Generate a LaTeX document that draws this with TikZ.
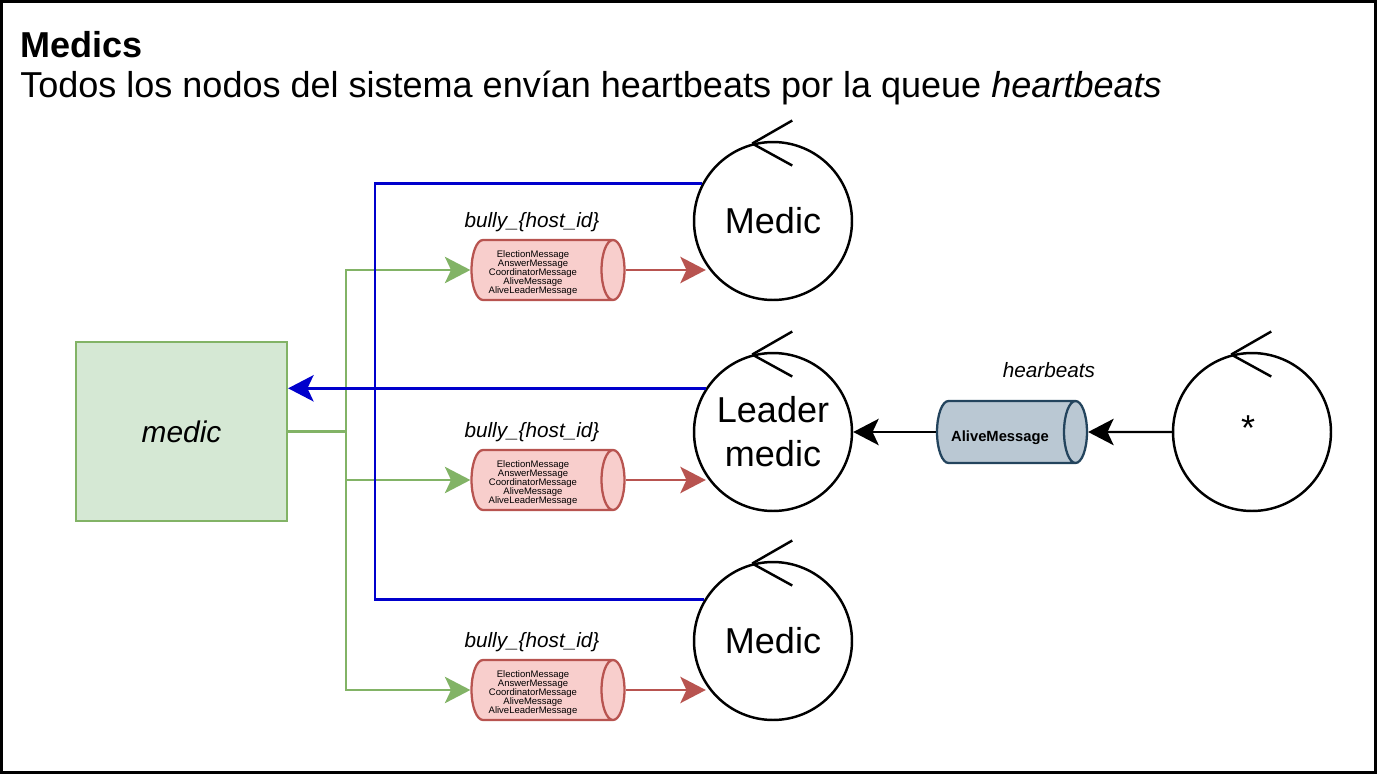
\documentclass[tikz,border=0pt]{standalone}
\usepackage{fontspec}
\setmainfont{Liberation Sans}
\usetikzlibrary{shapes.geometric,arrows.meta,calc}
\definecolor{medicgreen}{HTML}{82B366}
\definecolor{medicfill}{HTML}{D5E8D4}
\definecolor{bullyred}{HTML}{B85450}
\definecolor{bullyfill}{HTML}{F8CECC}
\definecolor{hbline}{HTML}{23445D}
\definecolor{hbfill}{HTML}{BAC8D3}
\definecolor{busblue}{HTML}{0000CC}
\newcommand{\bullymsgs}{ElectionMessage\\AnswerMessage\\CoordinatorMessage\\AliveMessage\\AliveLeaderMessage}

\begin{document}
\begin{tikzpicture}[x=0.02cm,y=-0.02cm,
  tip/.style={-{Stealth[length=14.5pt,width=15pt,inset=3.5pt]}},
  proc/.style={draw,circle,line width=1.4pt,minimum size=3.16cm,inner sep=0pt,
    align=center,font=\fontsize{20.5}{25}\selectfont},
  queue/.style={draw,cylinder,shape aspect=0.4,line width=1.3pt,anchor=shape center,
    text height=26pt,text depth=0pt},
  qlabel/.style={anchor=base,font=\fontsize{11.8}{14}\selectfont\itshape},
  link/.style={line width=1.4pt}]
  \useasboundingbox (0,0) rectangle (1377,774);
  \draw[line width=1.7pt] (1.5,1.5) rectangle (1375.5,772.5);

  %heading
  \node[anchor=base west,inner sep=0pt,font=\fontsize{20.5}{24}\selectfont\bfseries] (title) at (20,57) {Medics};
  \node[anchor=base west,inner sep=0pt,font=\fontsize{20.5}{24}\selectfont] (subtitle) at (20,97)
    {Todos los nodos del sistema envían heartbeats por la queue \textit{heartbeats}};

  %medic service box
  \node[draw=medicgreen,fill=medicfill,line width=1.3pt,minimum width=4.22cm,minimum height=3.58cm,
    font=\fontsize{17}{20}\selectfont\itshape] (medic) at (181.5,431.5) {medic};

  %processes
  \node[proc] (medicA) at (773,221) {Medic};
  \node[proc] (leader) at (773,432) {Leader\\medic};
  \node[proc] (medicC) at (773,641) {Medic};
  \node[proc] (star) at (1252,432) {};
  \node[font=\fontsize{20.5}{24}\selectfont] (starlbl) at (1248,428) {*};
  \foreach \p in {medicA,leader,medicC,star} {
    \draw[line width=1.4pt] (\p.105) -- ++(40,-23) (\p.105) -- ++(40,22);
  }

  %bully queues
  \foreach \q/\y in {1/270,2/480,3/690} {
    \node[queue,draw=bullyred,fill=bullyfill,minimum height=3.06cm,minimum width=1.2cm] (q\q) at (548,\y) {};
    \node[align=center,inner sep=0pt,font=\fontsize{5.4}{5.1}\selectfont] (qt\q) at (533,\y+3) {\bullymsgs};
    \node[qlabel] (ql\q) at (532,\y-43) {bully\_\{host\_id\}};
  }

  %heartbeats queue
  \node[queue,draw=hbline,fill=hbfill,minimum height=3cm,minimum width=1.24cm] (qhb) at (1012,432) {};
  \node[inner sep=0pt,font=\fontsize{8.4}{10}\selectfont\bfseries] (qhbt) at (1000,438) {AliveMessage};
  \node[qlabel] (qhbl) at (1049,377) {hearbeats};

  %green fan-out
  \coordinate (gsplit) at (346,431.5);
  \draw[medicgreen,link] (medic.east) -- (gsplit);
  \foreach \q in {1,2,3} {
    \draw[medicgreen,link,tip] (gsplit) |- (q\q.west);
    \draw[bullyred,link,tip] (q\q.east) -- ($(q\q.east -| medicA.west)+(13,0)$);
  }

  %blue bus
  \coordinate (busBot) at ($(medicC.149)+(-329,0)$);
  \draw[busblue,link] (medicA.152) -| (busBot) -- (medicC.149);
  \draw[busblue,link,tip] (leader.147) -- (medic.east |- leader.147);

  %heartbeats flow
  \draw[link,tip] (star.west) -- (qhb.east);
  \draw[link,tip] (qhb.west) -- (leader.east);
\end{tikzpicture}
\end{document}
